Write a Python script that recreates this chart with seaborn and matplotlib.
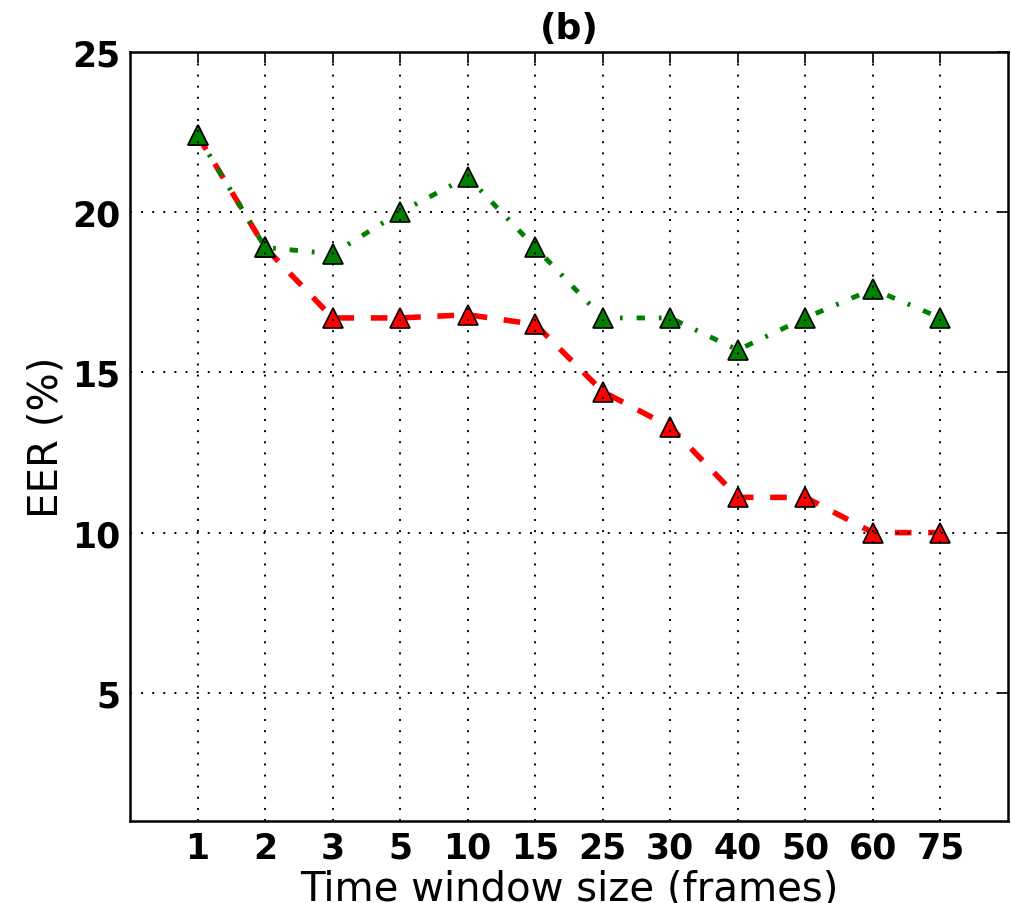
import numpy as np
import pandas as pd
import seaborn as sns
import matplotlib.pyplot as plt

# Time window sizes (frames) and EER (%)
windows = ['1', '2', '3', '5', '10', '15', '25', '30', '40', '50', '60', '75']
eer_green = [22.4, 18.9, 18.7, 20.0, 21.1, 18.9, 16.7, 16.7, 15.7, 16.7, 17.6, 16.7]
eer_red = [22.4, 18.9, 16.7, 16.7, 16.8, 16.5, 14.4, 13.3, 11.1, 11.1, 10.0, 10.0]
yticks = [5, 10, 15, 20, 25]


def plot():
    sns.set_style("white")
    plt.rcParams['font.family'] = ['DejaVu Sans']
    plt.rcParams['xtick.direction'] = 'in'
    plt.rcParams['ytick.direction'] = 'in'
    # old-style dash patterns, in points
    plt.rcParams['lines.scale_dashes'] = False
    plt.rcParams['lines.dashed_pattern'] = [12, 12]
    plt.rcParams['lines.dashdot_pattern'] = [6, 10, 2, 10]
    for k in ['text.color', 'axes.labelcolor', 'xtick.color', 'ytick.color']:
        plt.rcParams[k] = 'k'

    fig = plt.figure(figsize=(10.12, 9.04), dpi=100)
    ax = fig.add_axes([0.1285, 0.0907, 0.8675, 0.8507])

    df = pd.DataFrame({'window': windows, 'red': eer_red, 'green': eer_green})

    sns.pointplot(data=df, x='window', y='red', order=windows, color='red',
                  markers='^', linestyles='--', ax=ax,
                  lw=4, markersize=15, markeredgecolor='k', markeredgewidth=1.2)
    sns.pointplot(data=df, x='window', y='green', order=windows, color='green',
                  markers='^', linestyles='-.', ax=ax,
                  lw=3.5, markersize=15, markeredgecolor='k', markeredgewidth=1.2)

    ax.set_xlim(-1, 12)
    ax.set_ylim(1, 25)
    ax.set_yticks(yticks)
    ax.set_axisbelow(False)
    ax.grid(True, color='k', linestyle=(0, (1.4, 6.6)), linewidth=1.4)
    ax.tick_params(which='both', top=True, right=True, length=8, width=1.2, pad=7)
    for s in ax.spines.values():
        s.set_linewidth(1.8)
        s.set_color('k')

    for lab in ax.get_xticklabels() + ax.get_yticklabels():
        lab.set_fontsize(25)
        lab.set_fontweight('bold')

    ax.set_xlabel('Time window size (frames)', fontsize=29, labelpad=3)
    ax.set_ylabel('EER (%)', fontsize=29)
    ax.set_title('(b)', fontsize=26, fontweight='bold', pad=10)

    plt.savefig('out.png', dpi=100)


if __name__ == "__main__":
    plot()
